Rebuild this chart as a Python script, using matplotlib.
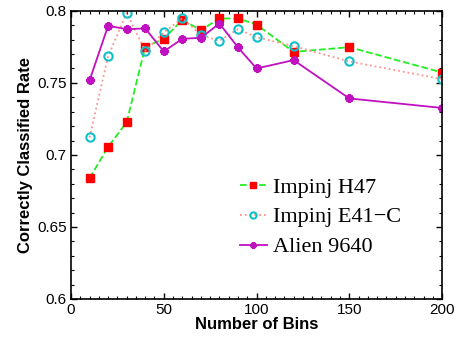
import matplotlib
matplotlib.use('Agg')
import matplotlib.pyplot as plt
from matplotlib.ticker import MultipleLocator

bins = [10, 20, 30, 40, 50, 60, 70, 80, 90, 100, 120, 150, 200]
h47 = [0.6838, 0.7056, 0.7227, 0.7750, 0.7806, 0.7938, 0.7866, 0.7947,
       0.7947, 0.7905, 0.7715, 0.7748, 0.7572]
e41c = [0.7121, 0.7685, 0.7986, 0.7722, 0.7850, 0.7949, 0.7833, 0.7792,
        0.7873, 0.7817, 0.7755, 0.7649, 0.7526]
alien = [0.7517, 0.7896, 0.7873, 0.7878, 0.7718, 0.7806, 0.7813, 0.7912,
         0.7746, 0.7600, 0.7658, 0.7392, 0.7326]
labels = ['Impinj H47', 'Impinj E41\u2212C', 'Alien 9640']

plt.rcParams['font.family'] = ['Liberation Sans', 'DejaVu Sans']
fig = plt.figure(figsize=(4.61, 3.39), dpi=100)
ax = fig.add_axes([0.154, 0.118, 0.805, 0.850])

ax.plot(bins, h47, '--', color='#22ee22', linewidth=1.3, marker='s',
        markersize=5.5, markerfacecolor='#ff0000', markeredgecolor='#ff0000',
        label=labels[0])
ax.plot(bins, e41c, ':', color='#ff9090', linewidth=1.3, marker='o',
        markersize=6, markerfacecolor='none', markeredgecolor='#10c0c8',
        markeredgewidth=1.5, label=labels[1])
ax.plot(bins, alien, '-', color='#c010c0', linewidth=1.3, marker=(8, 2, 0),
        markersize=6, markeredgewidth=1.8, markeredgecolor='#c010c0',
        label=labels[2])

ax.set_xlim(0, 200)
ax.set_ylim(0.6, 0.8)
ax.xaxis.set_major_locator(MultipleLocator(50))
ax.xaxis.set_minor_locator(MultipleLocator(5))
ax.yaxis.set_major_locator(MultipleLocator(0.05))
ax.yaxis.set_minor_locator(MultipleLocator(0.01))
ax.set_yticks([0.6, 0.65, 0.7, 0.75, 0.8])
ax.set_yticklabels(['0.6', '0.65', '0.7', '0.75', '0.8'])
ax.tick_params(which='both', direction='in', top=True, right=True,
               labelsize=11, pad=3)
ax.tick_params(which='major', length=4, width=1)
ax.tick_params(which='minor', length=2, width=0.8)
for s in ax.spines.values():
    s.set_linewidth(1.2)

ax.set_xlabel('Number of Bins', fontsize=12, fontweight='bold', labelpad=0)
ax.set_ylabel('Correctly Classified Rate', fontsize=12, fontweight='bold',
              labelpad=3)

ax.legend(loc='center left', bbox_to_anchor=(0.455, 0.284), frameon=False,
          prop={'family': 'Liberation Serif', 'size': 16},
          handlelength=1.2, handletextpad=0.3, labelspacing=0.42,
          borderpad=0, borderaxespad=0, markerscale=0.75)

fig.savefig('out.png', dpi=100)
